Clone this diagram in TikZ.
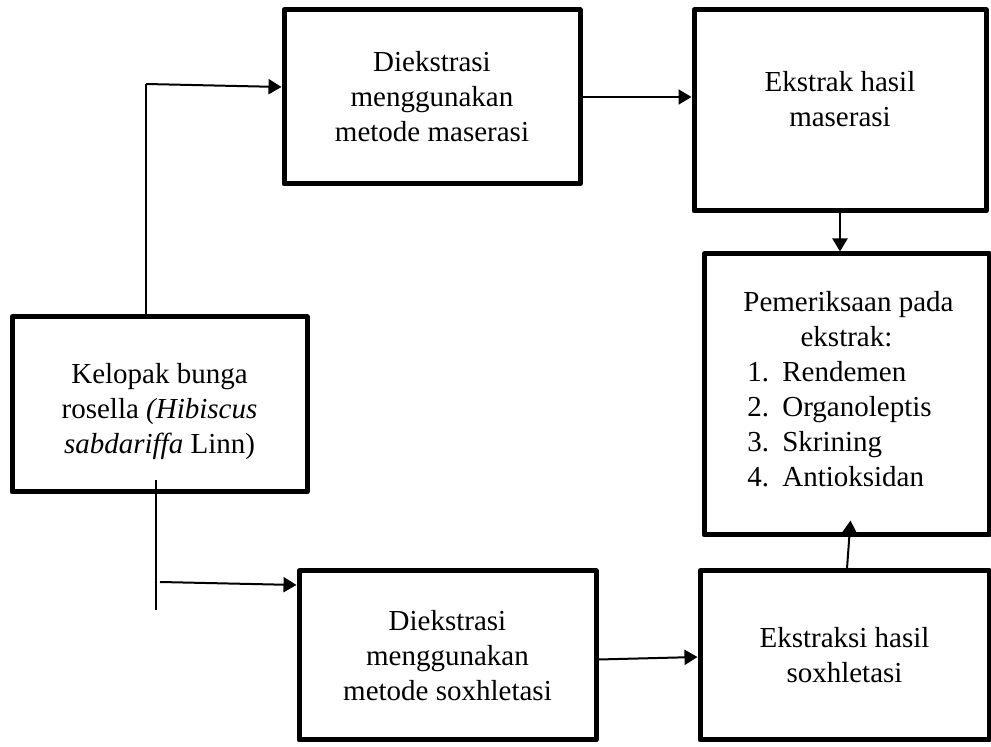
\documentclass[tikz,border=0pt]{standalone}
\usepackage{fontspec}
\setmainfont{Liberation Serif}
\usepackage{tikz}
\usetikzlibrary{arrows.meta, positioning}

\begin{document}
\begin{tikzpicture}[-, node distance=1cm, line width=1pt, inner sep=0pt,
  font=\fontsize{14.5}{17.5}\selectfont,
  box/.style={draw, line width=2.5pt, line join=round, align=center},
  arr/.style={-{Triangle[length=6.5pt, width=7.5pt]}}]
  \useasboundingbox (0,0) rectangle (495.5pt,-373.5pt);
  \node[box, minimum width=147.5pt, minimum height=87.5pt, text height=51.9pt] (K) at (79.75pt,-202.25pt)
       {Kelopak bunga\\ rosella \textit{(Hibiscus}\\ \textit{sabdariffa} Linn)};
  \node[box, minimum width=148pt, minimum height=87pt] (M) [right of=K, node distance=136.25pt, yshift=153.75pt]
       {Diekstrasi\\ menggunakan\\ metode maserasi};
  \node[box, minimum width=146pt, minimum height=100.5pt, text depth=12pt] (HM) [right of=M, node distance=204pt, yshift=-6.75pt]
       {Ekstrak hasil\\ maserasi};
  \node[box, minimum width=142.5pt, minimum height=140.5pt] (P) [below of=HM, node distance=142pt, xshift=3.25pt]
       {\hspace*{2pt}Pemeriksaan pada\\ ekstrak:\\
        \begin{tabular}[t]{@{}l@{}}
          \makebox[17.5pt][l]{1.}Rendemen\\
          \makebox[17.5pt][l]{2.}Organoleptis\\
          \makebox[17.5pt][l]{3.}Skrining\\
          \makebox[17.5pt][l]{4.}Antioksidan
        \end{tabular}\hspace*{7pt}};
  \node[box, minimum width=144.5pt, minimum height=84.5pt] (HS) [below of=P, node distance=130.5pt, xshift=-1pt]
       {Ekstraksi hasil\\ soxhletasi};
  \node[box, minimum width=148.5pt, minimum height=84.5pt] (S) [left of=HS, node distance=198.5pt]
       {Diekstrasi\\ menggunakan\\ metode soxhletasi};
  % free ends of the two branches
  \coordinate (K_a) at (73pt,-42pt);
  \coordinate (K_b) at (78pt,-240pt);
  \coordinate (K_c) at (78pt,-305pt);
  \coordinate (K_d) at (80pt,-291pt);
  \path (K.north -| K_a) edge (K_a)
        (K_a) edge [arr] ([yshift=5pt]M.west)
        (K_b) edge (K_c)
        (K_d) edge [arr] ([yshift=35.25pt]S.west)
        (M.east) edge [arr] (M.east -| HM.west)
        (HM.south) edge [arr] (HM.south |- P.north)
        ([yshift=-2pt]S.east) edge [arr] ([yshift=-0.75pt]HS.west)
        ([xshift=1.25pt]HS.north) edge [arr] ([xshift=2pt, yshift=8.5pt]P.south)
        ;
\end{tikzpicture}
\end{document}
